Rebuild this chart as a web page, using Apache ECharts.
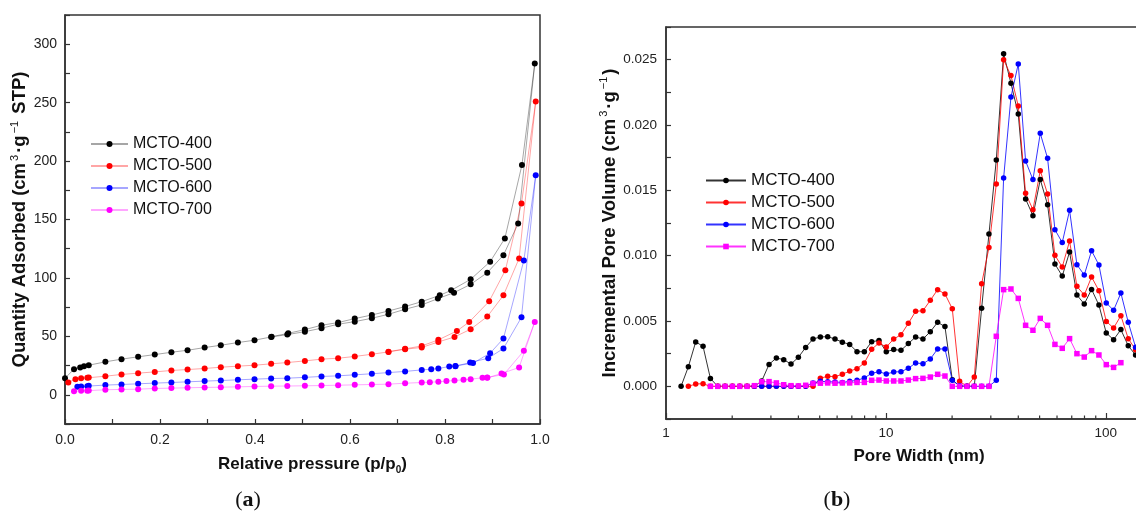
<!DOCTYPE html>
<html><head><meta charset="utf-8">
<script src="https://cdn.jsdelivr.net/npm/echarts@6/dist/echarts.min.js"></script>
<style>html,body{margin:0;padding:0;background:#fff}#c{width:1136px;height:514px}</style>
</head><body><div id="c"></div>
<script>
const seriesNames = ['MCTO-400', 'MCTO-500', 'MCTO-600', 'MCTO-700'];
const colors = ['#000000', '#ff0000', '#0000ff', '#ff00ff'];

// ---- Panel (a): N2 isotherms (adsorption branch, then desorption branch) ----
const p400 = [0.0, 0.019, 0.032, 0.040, 0.050, 0.085, 0.119, 0.154, 0.189, 0.224, 0.258, 0.294, 0.328, 0.364, 0.399, 0.434, 0.468, 0.505, 0.540, 0.575, 0.610, 0.646, 0.681, 0.716, 0.751, 0.785, 0.819, 0.854, 0.889, 0.923, 0.954, 0.989, 0.962, 0.926, 0.895, 0.854, 0.813, 0.789, 0.751, 0.716, 0.681, 0.646, 0.610, 0.575, 0.540, 0.505, 0.470, 0.435];
const q400 = [14.2, 21.9, 23.3, 24.5, 25.3, 28.2, 30.5, 32.5, 34.4, 36.4, 38.1, 40.4, 42.4, 44.7, 46.7, 49.5, 51.5, 54.0, 57.0, 60.4, 62.6, 65.5, 68.9, 73.2, 76.9, 82.3, 87.4, 94.5, 104.5, 119.5, 146.6, 283.4, 196.7, 133.8, 113.9, 98.8, 89.4, 85.1, 79.7, 75.5, 71.7, 68.3, 65.2, 61.8, 59.5, 55.8, 52.6, 49.7];
const p500 = [0.007, 0.022, 0.034, 0.047, 0.050, 0.085, 0.119, 0.154, 0.189, 0.224, 0.258, 0.294, 0.328, 0.364, 0.399, 0.434, 0.468, 0.505, 0.540, 0.575, 0.610, 0.646, 0.681, 0.716, 0.751, 0.786, 0.820, 0.854, 0.889, 0.923, 0.956, 0.991, 0.961, 0.927, 0.893, 0.851, 0.825, 0.786, 0.751, 0.716, 0.681];
const q500 = [10.5, 13.4, 14.2, 14.5, 14.8, 15.9, 17.4, 18.5, 19.6, 20.8, 21.6, 22.5, 23.6, 24.5, 25.3, 26.5, 27.6, 29.0, 30.5, 31.3, 32.8, 34.7, 36.7, 39.0, 40.5, 45.2, 49.5, 56.1, 66.9, 85.1, 116.7, 251.0, 163.7, 106.5, 80.0, 62.3, 54.6, 47.0, 41.8, 39.3, 36.9];
const p600 = [0.026, 0.034, 0.047, 0.050, 0.085, 0.119, 0.154, 0.189, 0.224, 0.258, 0.294, 0.328, 0.364, 0.399, 0.434, 0.468, 0.505, 0.540, 0.575, 0.610, 0.646, 0.681, 0.716, 0.751, 0.771, 0.786, 0.809, 0.822, 0.853, 0.891, 0.923, 0.961, 0.991, 0.966, 0.923, 0.895, 0.859, 0.822];
const q600 = [6.8, 7.1, 7.4, 7.7, 8.3, 8.8, 9.4, 10.0, 10.5, 11.1, 11.7, 12.2, 12.8, 13.4, 13.9, 14.2, 14.9, 15.7, 16.2, 17.1, 18.0, 19.0, 20.0, 21.3, 21.9, 22.5, 24.2, 24.5, 27.6, 31.3, 39.6, 66.3, 187.8, 115.0, 48.1, 35.6, 27.1, 24.7];
const p700 = [0.019, 0.034, 0.047, 0.050, 0.085, 0.119, 0.154, 0.189, 0.224, 0.258, 0.294, 0.328, 0.364, 0.399, 0.434, 0.468, 0.505, 0.540, 0.575, 0.610, 0.646, 0.681, 0.716, 0.751, 0.768, 0.786, 0.803, 0.820, 0.839, 0.854, 0.879, 0.889, 0.919, 0.956, 0.989, 0.966, 0.924, 0.889];
const q700 = [3.1, 3.4, 3.5, 3.7, 4.3, 4.6, 4.8, 5.4, 5.7, 6.0, 6.3, 6.5, 6.8, 7.1, 7.4, 7.5, 7.7, 7.9, 8.2, 8.5, 8.8, 9.1, 9.9, 10.5, 10.8, 11.1, 11.7, 12.2, 12.8, 13.4, 14.5, 14.5, 18.2, 23.4, 62.3, 37.6, 17.4, 14.8];

// ---- Panel (b): pore size distribution ----
const poreWidth = [1.171, 1.264, 1.365, 1.474, 1.592, 1.719, 1.856, 2.004, 2.164, 2.337, 2.523, 2.724, 2.942, 3.176, 3.430, 3.703, 3.999, 4.318, 4.662, 5.034, 5.436, 5.869, 6.338, 6.843, 7.389, 7.979, 8.615, 9.302, 10.04, 10.85, 11.71, 12.65, 13.65, 14.74, 15.92, 17.19, 18.56, 20.04, 21.64, 23.37, 25.23, 27.25, 29.42, 31.77, 34.30, 37.04, 39.99, 43.18, 46.63, 50.35, 54.36, 58.70, 63.38, 68.44, 73.90, 79.80, 86.16, 93.04, 100.5, 108.5, 117.1, 126.5, 136.6];
const pv400 = [0, 0.0015, 0.0034, 0.00306, 0.0006, 0, 0, 0, 0, 0, 0, 0.0004, 0.00168, 0.00217, 0.00204, 0.00171, 0.00222, 0.00298, 0.00362, 0.00378, 0.0038, 0.00362, 0.00338, 0.00321, 0.00265, 0.00265, 0.00342, 0.0035, 0.00265, 0.00281, 0.00276, 0.00327, 0.00378, 0.00362, 0.00418, 0.0049, 0.00457, 0.0005, 0, 0, 0, 0.00597, 0.01166, 0.01732, 0.02546, 0.02319, 0.02084, 0.01434, 0.01306, 0.01582, 0.0139, 0.00936, 0.00844, 0.01028, 0.00699, 0.0063, 0.00742, 0.00622, 0.00408, 0.00357, 0.00434, 0.0031, 0.0024];
const pv500 = [null, 0, 0.00018, 0.0002, 0, 0, 0, 0, 0, 0, 0, 0, 0, 0, 0, 0, 0, 0, 0, 0.00062, 0.00077, 0.00074, 0.00092, 0.00117, 0.00135, 0.00179, 0.00283, 0.00332, 0.00301, 0.00362, 0.00395, 0.00482, 0.00574, 0.00579, 0.00658, 0.0074, 0.00707, 0.00594, 0.00038, 0, 0.00071, 0.00785, 0.01062, 0.01548, 0.025, 0.02378, 0.02145, 0.01477, 0.01352, 0.0165, 0.01472, 0.01003, 0.00913, 0.01112, 0.00765, 0.00699, 0.00837, 0.00732, 0.00497, 0.00446, 0.00541, 0.00365, 0.0028];
const pv600 = [null, null, null, null, null, null, null, null, null, null, 0, 0, 0, 0, 0, 0, 0, 0, 0.00026, 0.00038, 0.00036, 0.00033, 0.0003, 0.00038, 0.00046, 0.00064, 0.001, 0.00112, 0.00094, 0.0011, 0.00112, 0.00138, 0.00179, 0.00173, 0.00209, 0.00286, 0.00286, 0.00046, 0.00005, 0, 0, 0, 0, 0.00046, 0.01594, 0.02214, 0.02467, 0.01724, 0.01582, 0.01936, 0.01745, 0.01199, 0.011, 0.01347, 0.00931, 0.00852, 0.01038, 0.00929, 0.00638, 0.00582, 0.00714, 0.0049, 0.003];
const pv700 = [null, null, null, null, 0, 0, 0, 0, 0, 0, 0.00005, 0.00035, 0.00036, 0.00026, 0.00012, 0.00005, 0.00003, 0.00008, 0.00022, 0.00024, 0.00026, 0.00024, 0.00026, 0.00026, 0.0003, 0.0003, 0.00046, 0.00048, 0.00041, 0.00041, 0.00041, 0.00048, 0.00059, 0.00061, 0.00071, 0.00092, 0.00079, 0, 0, 0, 0, 0, 0, 0.00383, 0.0074, 0.00745, 0.00673, 0.00467, 0.00429, 0.0052, 0.00467, 0.00321, 0.00291, 0.00365, 0.0025, 0.00224, 0.00273, 0.0024, 0.00166, 0.00145, 0.00181, null, null];
const logMinorTicks = [2, 3, 4, 5, 6, 7, 8, 9, 20, 30, 40, 50, 60, 70, 80, 90];

const FONT = '"Liberation Sans", Arial, sans-serif';
const SERIF = '"Liberation Serif", "DejaVu Serif", serif';
const AXC = '#333';

function pairs(xs, ys) {
  const out = [];
  xs.forEach((x, i) => { if (ys[i] !== null && ys[i] !== undefined) out.push([x, ys[i]]); });
  return out;
}

const isoX = [p400, p500, p600, p700];
const isoY = [q400, q500, q600, q700];
const psd = [pv400, pv500, pv600, pv700];

const series = [];
seriesNames.forEach((n, k) => {
  series.push({
    name: n, type: 'line', xAxisIndex: 0, yAxisIndex: 0,
    data: pairs(isoX[k], isoY[k]),
    symbol: 'circle', symbolSize: 6, showAllSymbol: true,
    itemStyle: { color: colors[k] },
    lineStyle: { color: colors[k], width: 1, opacity: 0.35 },
    emphasis: { disabled: true }, silent: true
  });
});
seriesNames.forEach((n, k) => {
  series.push({
    name: n + ' (b)', type: 'line', xAxisIndex: 1, yAxisIndex: 1,
    data: pairs(poreWidth, psd[k]),
    symbol: k === 3 ? 'rect' : 'circle', symbolSize: 5.5, showAllSymbol: true,
    itemStyle: { color: colors[k] },
    lineStyle: { color: colors[k], width: 1, opacity: 0.8 },
    emphasis: { disabled: true }, silent: true
  });
});
series.push({
  type: 'custom', xAxisIndex: 1, yAxisIndex: 1, silent: true, clip: false,
  data: logMinorTicks.map(v => [v, -0.0025]),
  encode: { x: 0, y: 1 },
  renderItem: function (params, api) {
    const pt = api.coord([api.value(0), api.value(1)]);
    return { type: 'line', shape: { x1: pt[0], y1: pt[1], x2: pt[0], y2: pt[1] - 3.5 }, style: { stroke: AXC, lineWidth: 1.2 } };
  },
  z: 5
});

const titleRich = (size) => ({
  b: { fontSize: size, fontWeight: 'bold', fontFamily: FONT, color: '#111', lineHeight: size + 4 },
  s: { fontSize: Math.round(size * 0.62), fontWeight: 'normal', fontFamily: FONT, color: '#111', lineHeight: Math.round(size * 0.62), verticalAlign: 'top', padding: [0, 2, 0, 2] },
  u: { fontSize: Math.round(size * 0.6), fontWeight: 'bold', fontFamily: FONT, color: '#111', lineHeight: Math.round(size * 0.6), verticalAlign: 'bottom' }
});

const axisCommon = {
  axisLine: { show: true, onZero: false, lineStyle: { color: AXC, width: 1.5 } },
  axisTick: { show: true, inside: true, length: 5, lineStyle: { color: AXC, width: 1.2 } },
  splitLine: { show: false }
};

const option = {
  animation: false,
  backgroundColor: '#ffffff',
  grid: [
    { left: 65, top: 15, width: 475, height: 409, show: true, borderColor: AXC, borderWidth: 1.5, outerBoundsMode: 'none', containLabel: false },
    { left: 666, top: 27, width: 506, height: 392, show: true, borderColor: AXC, borderWidth: 1.5, outerBoundsMode: 'none', containLabel: false }
  ],
  xAxis: [
    Object.assign({}, axisCommon, {
      gridIndex: 0, type: 'value', min: 0, max: 1, interval: 0.1,
      axisLabel: { margin: 9, fontSize: 14, color: '#222', fontFamily: FONT,
        formatter: v => (Math.round(v * 10) % 2 === 0 ? v.toFixed(1) : '') },
      name: '{b|Relative pressure (p/p}{u|0}{b|)}', nameLocation: 'middle', nameGap: 30,
      nameTextStyle: { rich: titleRich(17), padding: [0, 0, 0, 20] }
    }),
    Object.assign({}, axisCommon, {
      gridIndex: 1, type: 'log', logBase: 10, min: 1, max: 200,
      axisTick: { show: true, inside: true, length: 6, lineStyle: { color: AXC, width: 1.2 } },
      axisLabel: { margin: 7, fontSize: 13.5, color: '#222', fontFamily: FONT, showMaxLabel: false },
      name: '{b|Pore Width (nm)}', nameLocation: 'middle', nameGap: 27,
      nameTextStyle: { rich: titleRich(17) }
    })
  ],
  yAxis: [
    Object.assign({}, axisCommon, {
      gridIndex: 0, type: 'value', min: -25, max: 325, interval: 25,
      axisLabel: { margin: 8, fontSize: 14, color: '#222', fontFamily: FONT,
        formatter: v => (v >= 0 && Math.round(v) % 50 === 0 ? String(Math.round(v)) : '') },
      name: '{b|Quantity Adsorbed (cm}{s|3}{b|·g}{s|−1}{b| STP)}', nameLocation: 'middle', nameGap: 31, nameRotate: 90,
      nameTextStyle: { rich: titleRich(18.5) }
    }),
    Object.assign({}, axisCommon, {
      gridIndex: 1, type: 'value', min: -0.0025, max: 0.0275, interval: 0.0025,
      axisLabel: { margin: 9, fontSize: 13.5, color: '#222', fontFamily: FONT,
        formatter: v => { const k = Math.round(v / 0.0025); return (k >= 0 && k % 2 === 0) ? (k * 0.0025).toFixed(3) : ''; } },
      name: '{b|Incremental Pore Volume (cm}{s|3}{b|·g}{s|−1}{b|)}', nameLocation: 'middle', nameGap: 45, nameRotate: 90,
      nameTextStyle: { rich: titleRich(18.5) }
    })
  ],
  legend: [
    { data: seriesNames, orient: 'vertical', left: 90, top: 136, padding: 0,
      itemWidth: 37, itemHeight: 7.5, itemGap: 6, selectedMode: false,
      textStyle: { fontSize: 16, fontFamily: FONT, color: '#111' } },
    { data: seriesNames.map(n => n + ' (b)'), orient: 'vertical', left: 705, top: 172, padding: 0,
      itemWidth: 40, itemHeight: 7, itemGap: 5, selectedMode: false,
      formatter: n => n.replace(' (b)', ''),
      textStyle: { fontSize: 17, fontFamily: FONT, color: '#111' } }
  ],
  graphic: [
    { type: 'text', x: 248, y: 500, style: { text: '{n|(}{a|a}{n|)}', textAlign: 'center', textVerticalAlign: 'middle',
      rich: { n: { fontSize: 22, fontFamily: SERIF, fill: '#111' }, a: { fontSize: 22, fontFamily: SERIF, fontWeight: 'bold', fill: '#111' } } } },
    { type: 'text', x: 837, y: 500, style: { text: '{n|(}{a|b}{n|)}', textAlign: 'center', textVerticalAlign: 'middle',
      rich: { n: { fontSize: 22, fontFamily: SERIF, fill: '#111' }, a: { fontSize: 22, fontFamily: SERIF, fontWeight: 'bold', fill: '#111' } } } }
  ],
  series: series
};

const chart = echarts.init(document.getElementById('c'), null, { renderer: 'canvas' });
chart.setOption(option);
</script>
</body></html>
